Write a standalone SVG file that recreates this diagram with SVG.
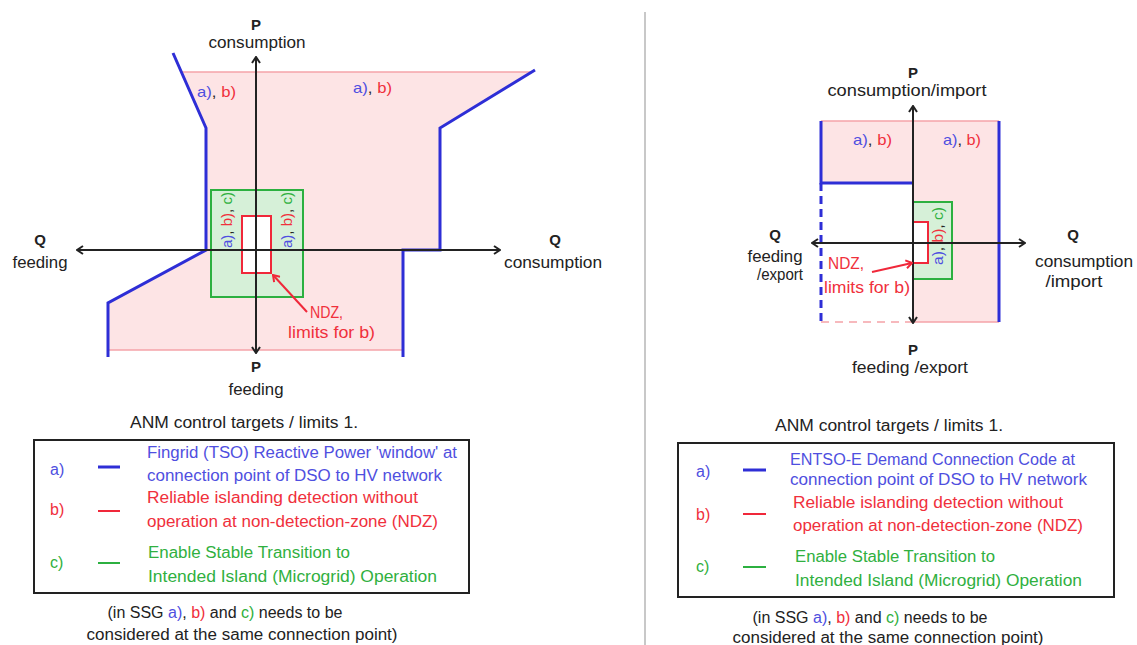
<svg xmlns="http://www.w3.org/2000/svg" width="1137" height="645" viewBox="0 0 1137 645">
<style>
text{font-family:"Liberation Sans",Arial,sans-serif;fill:#222;}
.b{font-weight:bold;font-size:15px;}
.ax{font-size:16px;}
.lg{font-size:16px;}
.sm{font-size:15px;}
.nd{font-size:16px;}
.bl{fill:#4f4fe0;}
.rd{fill:#f0303c;}
.gr{fill:#30b040;}
.pink{fill:#fde4e5;stroke:none;}
.pline{stroke:#f5a3a8;stroke-width:1.5;fill:none;}
.blue{stroke:#2e2ed6;stroke-width:3;fill:none;}
.green{stroke:#2cb040;stroke-width:2;fill:#d6f0d8;}
.red{stroke:#f0283a;stroke-width:2;fill:#fff;}
.axis{stroke:#222;stroke-width:2;fill:none;marker-start:url(#ar);marker-end:url(#ar);}
.ndz{stroke:#f0283a;stroke-width:2;fill:none;marker-end:url(#arr);}
</style>
<defs>
<marker id="ar" viewBox="0 0 10 10" refX="9" refY="5" markerWidth="10" markerHeight="10" markerUnits="userSpaceOnUse" orient="auto-start-reverse">
<path d="M3,1 L9,5 L3,9" fill="none" stroke="#222" stroke-width="2"/>
</marker>
<marker id="arr" viewBox="0 0 10 10" refX="9" refY="5" markerWidth="10" markerHeight="10" markerUnits="userSpaceOnUse" orient="auto">
<path d="M3,1 L9,5 L3,9" fill="none" stroke="#f0283a" stroke-width="2"/>
</marker>
</defs>
<rect width="1137" height="645" fill="#fff"/>
<line x1="645" y1="12" x2="645" y2="645" stroke="#c8c8c8" stroke-width="2"/>

<!-- Left diagram -->
<g id="left-region">
<polygon class="pink" points="181,72 532,72 440,128 440,250 403,250 403,350 108,350 108,303 206,250 206,128"/>
<line class="pline" x1="181" y1="72" x2="532" y2="72"/>
<line class="pline" x1="108" y1="350" x2="403" y2="350"/>
<polyline class="blue" points="173,53 206,128 206,250 108,303 108,357"/>
<polyline class="blue" points="535,70 440,128 440,250 403,250 403,357"/>
<text class="sm" x="197" y="97" textLength="39" lengthAdjust="spacingAndGlyphs"><tspan class="bl">a)</tspan>, <tspan class="rd">b)</tspan></text>
<text class="sm" x="353" y="93" textLength="39" lengthAdjust="spacingAndGlyphs"><tspan class="bl">a)</tspan>, <tspan class="rd">b)</tspan></text>
</g>
<g id="left-green">
<rect class="green" x="211" y="190" width="92" height="107"/>
<text class="sm" transform="translate(232,220) rotate(-90)" text-anchor="middle" textLength="56" lengthAdjust="spacingAndGlyphs"><tspan class="bl">a)</tspan>, <tspan class="rd">b)</tspan>, <tspan class="gr">c)</tspan></text>
<text class="sm" transform="translate(292,220) rotate(-90)" text-anchor="middle" textLength="56" lengthAdjust="spacingAndGlyphs"><tspan class="bl">a)</tspan>, <tspan class="rd">b)</tspan>, <tspan class="gr">c)</tspan></text>
</g>
<g id="left-ndz">
<rect class="red" x="242" y="216" width="29" height="57"/>
<text class="nd rd" x="310" y="318" textLength="33" lengthAdjust="spacingAndGlyphs">NDZ,</text>
<text class="nd rd" x="288" y="338" textLength="87" lengthAdjust="spacingAndGlyphs">limits for b)</text>
</g>
<g id="left-axes">
<path class="axis" d="M77,250 L500,250"/>
<path class="axis" d="M256,57 L256,353"/>
<text class="b" x="256" y="30" text-anchor="middle">P</text>
<text class="ax" x="257" y="48" text-anchor="middle" textLength="97" lengthAdjust="spacingAndGlyphs">consumption</text>
<text class="b" x="40" y="245" text-anchor="middle">Q</text>
<text class="ax" x="40" y="268" text-anchor="middle" textLength="55" lengthAdjust="spacingAndGlyphs">feeding</text>
<text class="b" x="555" y="245" text-anchor="middle">Q</text>
<text class="ax" x="553" y="268" text-anchor="middle" textLength="98" lengthAdjust="spacingAndGlyphs">consumption</text>
<text class="b" x="256" y="372" text-anchor="middle">P</text>
<text class="ax" x="256" y="395" text-anchor="middle" textLength="55" lengthAdjust="spacingAndGlyphs">feeding</text>
</g>

<!-- Right diagram -->
<g id="right-region">
<polygon class="pink" points="821,121 999,121 999,322 913,322 913,183 821,183"/>
<line class="pline" x1="821" y1="121" x2="999" y2="121"/>
<line class="pline" x1="913" y1="322" x2="999" y2="322"/>
<line class="pline" x1="821" y1="322" x2="913" y2="322" stroke-dasharray="8,6"/>
<polyline class="blue" points="821,121 821,183 913,183"/>
<line class="blue" x1="821" y1="183" x2="821" y2="322" stroke-dasharray="8,5"/>
<line class="blue" x1="999" y1="121" x2="999" y2="322"/>
<text class="sm" x="853" y="145" textLength="39" lengthAdjust="spacingAndGlyphs"><tspan class="bl">a)</tspan>, <tspan class="rd">b)</tspan></text>
<text class="sm" x="943" y="145" textLength="38" lengthAdjust="spacingAndGlyphs"><tspan class="bl">a)</tspan>, <tspan class="rd">b)</tspan></text>
</g>
<g id="right-green">
<rect class="green" x="913" y="202" width="39" height="77"/>
<text class="sm" transform="translate(943,236) rotate(-90)" text-anchor="middle" textLength="58" lengthAdjust="spacingAndGlyphs"><tspan class="bl">a)</tspan>, <tspan class="rd">b)</tspan>, <tspan class="gr">c)</tspan></text>
</g>
<g id="right-ndz">
<rect class="red" x="913" y="222" width="15" height="41"/>
<text class="nd rd" x="828" y="269" textLength="36" lengthAdjust="spacingAndGlyphs">NDZ,</text>
<text class="nd rd" x="824" y="293" textLength="86" lengthAdjust="spacingAndGlyphs">limits for b)</text>
</g>
<g id="right-axes">
<path class="axis" d="M812,243 L1025,243"/>
<path class="axis" d="M913,106 L913,323"/>
<text class="b" x="913" y="78" text-anchor="middle">P</text>
<text class="ax" x="907" y="96" text-anchor="middle" textLength="159" lengthAdjust="spacingAndGlyphs">consumption/import</text>
<text class="b" x="775" y="240" text-anchor="middle">Q</text>
<text class="ax" x="775" y="262" text-anchor="middle" textLength="55" lengthAdjust="spacingAndGlyphs">feeding</text>
<text class="ax" x="780" y="280" text-anchor="middle" textLength="46" lengthAdjust="spacingAndGlyphs">/export</text>
<text class="b" x="1073" y="240" text-anchor="middle">Q</text>
<text class="ax" x="1084" y="267" text-anchor="middle" textLength="98" lengthAdjust="spacingAndGlyphs">consumption</text>
<text class="ax" x="1074" y="287" text-anchor="middle" textLength="57" lengthAdjust="spacingAndGlyphs">/import</text>
<text class="b" x="913" y="355" text-anchor="middle">P</text>
<text class="ax" x="910" y="373" text-anchor="middle" textLength="116" lengthAdjust="spacingAndGlyphs">feeding /export</text>
</g>

<!-- Connectors (NDZ pointers) -->
<g id="connectors">
<line class="ndz" x1="307" y1="312" x2="273" y2="275"/>
<line class="ndz" x1="872" y1="272" x2="912" y2="263"/>
</g>

<!-- Left legend -->
<g id="left-legend">
<text class="ax" x="244" y="428" text-anchor="middle" textLength="228" lengthAdjust="spacingAndGlyphs">ANM control targets / limits 1.</text>
<rect x="34" y="440" width="435" height="153" fill="none" stroke="#222" stroke-width="2"/>
<text class="lg bl" x="50" y="475">a)</text>
<line x1="98" y1="467" x2="120" y2="467" stroke="#2e2ed6" stroke-width="3"/>
<text class="lg bl" x="147" y="458" textLength="310" lengthAdjust="spacingAndGlyphs">Fingrid (TSO) Reactive Power 'window' at</text>
<text class="lg bl" x="147" y="481" textLength="295" lengthAdjust="spacingAndGlyphs">connection point of DSO to HV network</text>
<text class="lg rd" x="50" y="515">b)</text>
<line x1="98" y1="511" x2="120" y2="511" stroke="#f0283a" stroke-width="2"/>
<text class="lg rd" x="147" y="503" textLength="271" lengthAdjust="spacingAndGlyphs">Reliable islanding detection without</text>
<text class="lg rd" x="147" y="527" textLength="291" lengthAdjust="spacingAndGlyphs">operation at non-detection-zone (NDZ)</text>
<text class="lg gr" x="50" y="568">c)</text>
<line x1="98" y1="563" x2="120" y2="563" stroke="#2cb040" stroke-width="2"/>
<text class="lg gr" x="148" y="558" textLength="202" lengthAdjust="spacingAndGlyphs">Enable Stable Transition to</text>
<text class="lg gr" x="148" y="582" textLength="289" lengthAdjust="spacingAndGlyphs">Intended Island (Microgrid) Operation</text>
<text class="ax" x="225" y="618" text-anchor="middle" textLength="235" lengthAdjust="spacingAndGlyphs">(in SSG <tspan class="bl">a)</tspan>, <tspan class="rd">b)</tspan> and <tspan class="gr">c)</tspan> needs to be</text>
<text class="ax" x="242" y="640" text-anchor="middle" textLength="311" lengthAdjust="spacingAndGlyphs">considered at the same connection point)</text>
</g>

<!-- Right legend -->
<g id="right-legend">
<text class="ax" x="889" y="431" text-anchor="middle" textLength="228" lengthAdjust="spacingAndGlyphs">ANM control targets / limits 1.</text>
<rect x="678" y="443" width="436" height="154" fill="none" stroke="#222" stroke-width="2"/>
<text class="lg bl" x="696" y="477">a)</text>
<line x1="743" y1="470" x2="766" y2="470" stroke="#2e2ed6" stroke-width="3"/>
<text class="lg bl" x="790" y="465" textLength="285" lengthAdjust="spacingAndGlyphs">ENTSO-E Demand Connection Code at</text>
<text class="lg bl" x="790" y="485" textLength="297" lengthAdjust="spacingAndGlyphs">connection point of DSO to HV network</text>
<text class="lg rd" x="696" y="520">b)</text>
<line x1="743" y1="514" x2="766" y2="514" stroke="#f0283a" stroke-width="2"/>
<text class="lg rd" x="793" y="508" textLength="270" lengthAdjust="spacingAndGlyphs">Reliable islanding detection without</text>
<text class="lg rd" x="793" y="531" textLength="290" lengthAdjust="spacingAndGlyphs">operation at non-detection-zone (NDZ)</text>
<text class="lg gr" x="696" y="572">c)</text>
<line x1="743" y1="567" x2="766" y2="567" stroke="#2cb040" stroke-width="2"/>
<text class="lg gr" x="795" y="562" textLength="200" lengthAdjust="spacingAndGlyphs">Enable Stable Transition to</text>
<text class="lg gr" x="795" y="586" textLength="287" lengthAdjust="spacingAndGlyphs">Intended Island (Microgrid) Operation</text>
<text class="ax" x="870" y="623" text-anchor="middle" textLength="235" lengthAdjust="spacingAndGlyphs">(in SSG <tspan class="bl">a)</tspan>, <tspan class="rd">b)</tspan> and <tspan class="gr">c)</tspan> needs to be</text>
<text class="ax" x="888" y="643" text-anchor="middle" textLength="311" lengthAdjust="spacingAndGlyphs">considered at the same connection point)</text>
</g>
</svg>
